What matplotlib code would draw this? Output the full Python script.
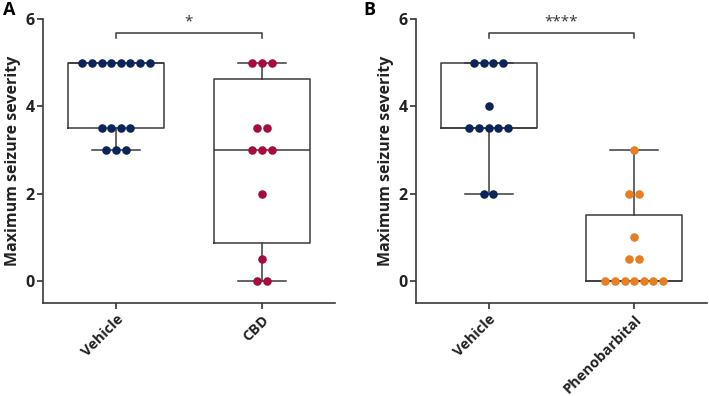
import numpy as np
import matplotlib
matplotlib.use("Agg")
import matplotlib.pyplot as plt

plt.rcParams['font.family'] = ['Open Sans', 'DejaVu Sans']
plt.rcParams['font.weight'] = 'bold'

# panel A
groups_a = ["Vehicle", "CBD"]
vehicle_a = [5, 5, 5, 5, 5, 5, 5, 5, 3.5, 3.5, 3.5, 3.5, 3, 3, 3]
cbd = [5, 5, 5, 3.5, 3.5, 3, 3, 3, 2, 0.5, 0, 0]
stars_a = "*"

# panel B
groups_b = ["Vehicle", "Phenobarbital"]
vehicle_b = [5, 5, 5, 5, 4, 3.5, 3.5, 3.5, 3.5, 3.5, 2, 2]
pheno = [3, 2, 2, 1, 0.5, 0.5, 0, 0, 0, 0, 0, 0, 0]
stars_b = "****"

yticks = [0, 2, 4, 6]
NAVY = "#0b2559"
CRIMSON = "#a50d3d"
ORANGE = "#e67e22"
LINE = "#3a3a3a"


def box_stats(vals):
    # quartiles the GraphPad way (n+1 positions)
    v = np.asarray(vals, float)
    q1, med, q3 = np.percentile(v, [25, 50, 75], method="weibull")
    return dict(med=med, q1=q1, q3=q3, whislo=v.min(), whishi=v.max(), fliers=[])


def swarm(ax, x0, vals, color, step=0.066):
    vals = np.asarray(vals, float)
    for y in np.unique(vals):
        k = int((vals == y).sum())
        xs = x0 + (np.arange(k) - (k - 1) / 2) * step
        ax.scatter(xs, [y] * k, s=38, color=color, zorder=3, linewidths=0)


def panel(ax, names, data, colors, stars):
    stats = [box_stats(d) for d in data]
    lp = dict(color=LINE, linewidth=1.1)
    ax.bxp(stats, positions=range(len(data)), widths=0.66, showfliers=False,
           boxprops=lp, whiskerprops=lp, capprops=lp,
           medianprops=dict(color=LINE, linewidth=1.1), capwidths=0.33)
    for i, (d, c) in enumerate(zip(data, colors)):
        swarm(ax, i, d, c)

    # significance bracket
    ax.plot([0, 0, 1, 1], [5.57, 5.68, 5.68, 5.57], color=LINE, lw=1.1,
            clip_on=False)
    ax.text(0.5, 5.76, stars, ha="center", va="bottom", fontsize=11,
            color="#333333", fontweight="normal")

    ax.set_xlim(-0.5, 1.5)
    ax.set_ylim(-0.5, 6)
    ax.set_yticks(yticks)
    ax.set_xticks(range(len(names)))
    ax.set_xticklabels(names, rotation=45, ha="right", rotation_mode="anchor")
    ax.tick_params(axis="y", labelsize=11.5, pad=2)
    ax.tick_params(axis="x", labelsize=10.5, pad=3)
    ax.tick_params(colors="#222222", width=1.1, length=4)
    for lbl in ax.get_xticklabels() + ax.get_yticklabels():
        lbl.set_fontweight("bold")
    for s in ["top", "right"]:
        ax.spines[s].set_visible(False)
    for s in ["left", "bottom"]:
        ax.spines[s].set_color(LINE)
        ax.spines[s].set_linewidth(1.2)
    ax.set_ylabel("Maximum seizure severity", fontsize=11.5, fontweight="bold",
                  color="#222222", labelpad=3)


fig = plt.figure(figsize=(7.09, 3.96), dpi=100)
ax1 = fig.add_axes([0.0607, 0.2356, 0.4118, 0.7164])
ax2 = fig.add_axes([0.5867, 0.2356, 0.4103, 0.7164])

panel(ax1, groups_a, [vehicle_a, cbd], [NAVY, CRIMSON], stars_a)
panel(ax2, groups_b, [vehicle_b, pheno], [NAVY, ORANGE], stars_b)

fig.text(0.004, 0.976, "A", fontsize=13, fontweight="bold", va="center")
fig.text(0.512, 0.976, "B", fontsize=13, fontweight="bold", va="center")

fig.savefig("out.png", dpi=100)
